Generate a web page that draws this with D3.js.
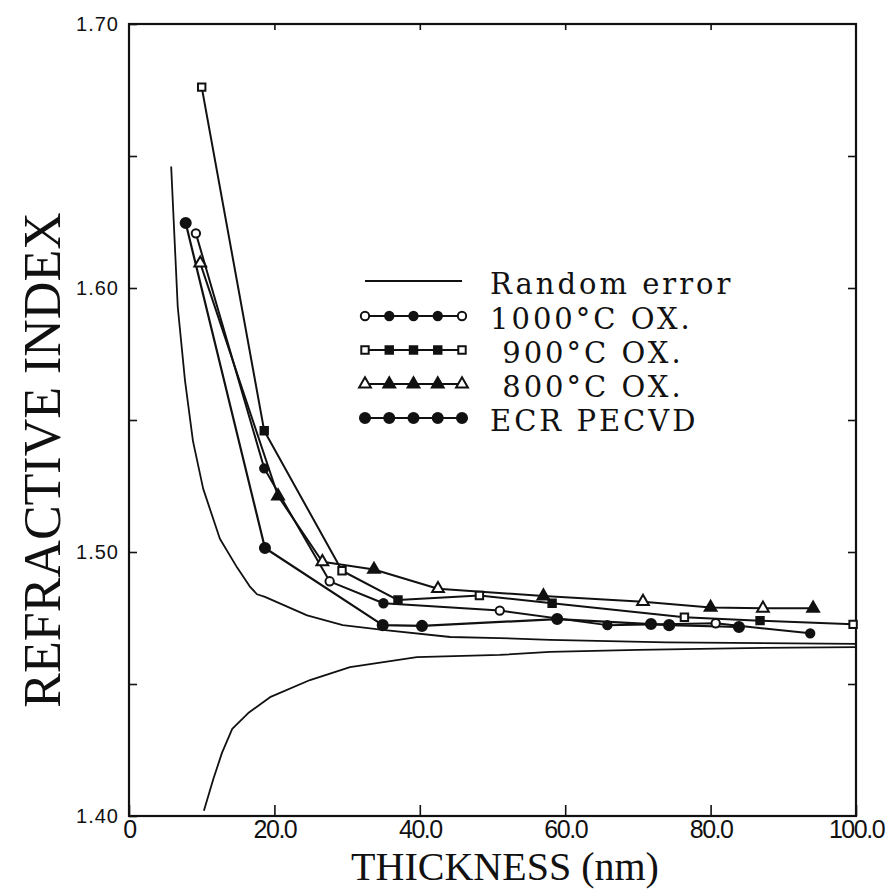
<!DOCTYPE html>
<html>
<head>
<meta charset="utf-8">
<script src="https://cdn.jsdelivr.net/npm/d3@7"></script>
<style>
  body { margin: 0; background: #fff; }
  svg { display: block; }
</style>
</head>
<body>
<script>
/* ======= data ======= */
// axis ticks
var thicknessTicks = [0, 20, 40, 60, 80, 100];
var thicknessLabels = ["0", "20.0", "40.0", "60.0", "80.0", "100.0"];
var indexTicks = [1.40, 1.45, 1.50, 1.55, 1.60, 1.65, 1.70];
var indexLabels = ["1.40", "", "1.50", "", "1.60", "", "1.70"];

// random error envelope (thickness nm, refractive index)
var randomUpper = [[5.8, 1.646], [6.7, 1.593], [7.7, 1.565], [8.8, 1.542], [10.2, 1.524],
    [12.5, 1.505], [14.9, 1.494], [16.6, 1.487], [17.6, 1.484], [18.7, 1.483], [24.5, 1.476],
    [29.4, 1.4723], [34.9, 1.4705], [44.2, 1.4678], [51.0, 1.4674], [57.9, 1.4667],
    [74.0, 1.4658], [100, 1.4652]];
var randomLower = [[10.3, 1.402], [11.6, 1.414], [12.8, 1.424], [14.2, 1.433], [16.4, 1.439],
    [19.4, 1.445], [24.9, 1.4515], [30.4, 1.4564], [39.6, 1.4602], [51.0, 1.461],
    [57.9, 1.4622], [70.0, 1.4629], [85.0, 1.4636], [100, 1.464]];

// measured series
var ox1000 = [[9.2, 1.6207], [18.6, 1.5317], [27.6, 1.4889], [35.0, 1.4806], [51.0, 1.4778],
    [65.8, 1.4723], [80.7, 1.4730], [93.7, 1.4692]];
var ox900 = [[10.0, 1.6761], [18.6, 1.5459], [29.3, 1.4929], [37.0, 1.4818], [48.2, 1.4835],
    [58.2, 1.4806], [76.4, 1.4753], [86.8, 1.4740], [99.6, 1.4726]];
var ox800 = [[9.8, 1.6094], [20.5, 1.5212], [26.6, 1.4963], [33.7, 1.4934], [42.5, 1.4861],
    [57.0, 1.4833], [70.7, 1.4812], [80.0, 1.4790], [87.2, 1.4787], [94.1, 1.4787]];
var ecr = [[7.8, 1.6246], [18.7, 1.5015], [34.9, 1.4723], [40.3, 1.4720], [58.9, 1.4746],
    [71.8, 1.4727], [74.3, 1.4723], [83.9, 1.4716]];

var legendNames = ["Random error", "1000\u00b0C OX.", "\u00a0900\u00b0C OX.", "\u00a0800\u00b0C OX.", "ECR PECVD"];

/* ======= layout ======= */
var w = 890, h = 889;
var plotLeft = 129, plotRight = 856, plotTop = 24, plotBottom = 816;
var ink = "#111";

var svg = d3.select("body").append("svg")
    .attr("width", w)
    .attr("height", h);
svg.append("rect").attr("width", w).attr("height", h).attr("fill", "#fff");

var xScale = d3.scaleLinear().domain([0, 100]).range([plotLeft, plotRight]);
var yScale = d3.scaleLinear().domain([1.40, 1.70]).range([plotBottom, plotTop]);

// frame
svg.append("rect")
    .attr("x", xScale(0)).attr("y", yScale(1.70))
    .attr("width", xScale(100) - xScale(0))
    .attr("height", yScale(1.40) - yScale(1.70))
    .attr("fill", "none")
    .attr("stroke", ink)
    .attr("stroke-width", 2.2);

// bottom axis, ticks point inward
var xAxis = svg.append("g")
    .attr("transform", "translate(0," + plotBottom + ")")
    .call(d3.axisBottom(xScale)
        .tickValues(thicknessTicks)
        .tickSizeInner(-11).tickSizeOuter(0).tickPadding(4)
        .tickFormat(function (d, i) { return thicknessLabels[i]; }));
xAxis.select(".domain").remove();
xAxis.selectAll("line").attr("stroke", ink).attr("stroke-width", 1.6);
xAxis.selectAll("text")
    .attr("font-family", "Liberation Sans, sans-serif")
    .attr("font-size", 25)
    .attr("letter-spacing", -1.5)
    .attr("fill", ink);

// top axis, ticks only
var topAxis = svg.append("g")
    .attr("transform", "translate(0," + plotTop + ")")
    .call(d3.axisTop(xScale)
        .tickValues(thicknessTicks.slice(1, -1))
        .tickSizeInner(-6).tickSizeOuter(0).tickFormat(""));
topAxis.select(".domain").remove();
topAxis.selectAll("line").attr("stroke", ink).attr("stroke-width", 1.6);

// left axis
var yAxis = svg.append("g")
    .attr("transform", "translate(" + plotLeft + ",0)")
    .call(d3.axisLeft(yScale)
        .tickValues(indexTicks)
        .tickSizeInner(-8).tickSizeOuter(0).tickPadding(10)
        .tickFormat(function (d, i) { return indexLabels[i]; }));
yAxis.select(".domain").remove();
yAxis.selectAll("line").attr("stroke", ink).attr("stroke-width", 1.6);
yAxis.selectAll("text")
    .attr("font-family", "Liberation Sans, sans-serif")
    .attr("font-size", 20)
    .attr("letter-spacing", 1)
    .attr("fill", ink);

// right axis, ticks only
var rightAxis = svg.append("g")
    .attr("transform", "translate(" + plotRight + ",0)")
    .call(d3.axisRight(yScale)
        .tickValues(indexTicks.slice(1, -1))
        .tickSizeInner(-8).tickSizeOuter(0).tickFormat(""));
rightAxis.select(".domain").remove();
rightAxis.selectAll("line").attr("stroke", ink).attr("stroke-width", 1.6);

// axis titles
svg.append("text")
    .attr("x", 505).attr("y", 880)
    .attr("text-anchor", "middle")
    .attr("font-family", "Liberation Serif, serif")
    .attr("font-size", 40)
    .attr("fill", ink)
    .text("THICKNESS (nm)");
svg.append("text")
    .attr("transform", "translate(60,460) rotate(-90)")
    .attr("text-anchor", "middle")
    .attr("font-family", "Liberation Serif, serif")
    .attr("font-size", 52)
    .attr("fill", ink)
    .text("REFRACTIVE INDEX");

/* ======= curves ======= */
var line = d3.line()
    .x(function (d) { return xScale(d[0]); })
    .y(function (d) { return yScale(d[1]); });

function drawLine(data, width) {
    svg.append("path")
        .datum(data)
        .attr("fill", "none")
        .attr("stroke", ink)
        .attr("stroke-width", width)
        .attr("stroke-linejoin", "round")
        .attr("d", line);
}

drawLine(randomUpper, 1.8);
drawLine(randomLower, 1.8);
drawLine(ox1000, 2);
drawLine(ox900, 2);
drawLine(ox800, 2);
drawLine(ecr, 2.2);

// markers: open ones alternate with filled ones like the legend
var symCircle = d3.symbol().type(d3.symbolCircle).size(55);
var symSquare = d3.symbol().type(d3.symbolSquare).size(55);
var symTriangle = d3.symbol().type(d3.symbolTriangle).size(60);
var symDot = d3.symbol().type(d3.symbolCircle).size(80);

function drawMarkers(data, sym, alwaysFilled) {
    svg.append("g").selectAll("path")
        .data(data)
        .join("path")
        .attr("transform", function (d) { return "translate(" + xScale(d[0]) + "," + yScale(d[1]) + ")"; })
        .attr("d", sym)
        .attr("fill", function (d, i) { return (alwaysFilled || i % 2 == 1) ? ink : "#fff"; })
        .attr("stroke", ink)
        .attr("stroke-width", 2);
}

drawMarkers(ox1000, symCircle, false);
drawMarkers(ox900, symSquare, false);
drawMarkers(ox800, symTriangle, false);
drawMarkers(ecr, symDot, true);

/* ======= legend ======= */
var legendX0 = 365, legendX1 = 462, legendTextX = 490;
var legendBase = [294, 329, 363, 397, 431];
var legendSyms = [null, symCircle, symSquare, symTriangle, symDot];

legendNames.forEach(function (name, k) {
    var ly = legendBase[k] - 13;
    svg.append("line")
        .attr("x1", legendX0).attr("x2", legendX1)
        .attr("y1", ly).attr("y2", ly)
        .attr("stroke", ink)
        .attr("stroke-width", 2);
    if (legendSyms[k]) {
        var pts = d3.range(5).map(function (j) { return legendX0 + j * (legendX1 - legendX0) / 4; });
        svg.append("g").selectAll("path")
            .data(pts)
            .join("path")
            .attr("transform", function (d) { return "translate(" + d + "," + ly + ")"; })
            .attr("d", legendSyms[k])
            .attr("fill", function (d, j) { return (k == 4 || (j > 0 && j < 4)) ? ink : "#fff"; })
            .attr("stroke", ink)
            .attr("stroke-width", 2);
    }
    svg.append("text")
        .attr("x", legendTextX).attr("y", legendBase[k])
        .attr("font-family", "DejaVu Serif, serif")
        .attr("font-size", 29)
        .attr("letter-spacing", 3)
        .attr("fill", ink)
        .text(name);
});
</script>
</body>
</html>
